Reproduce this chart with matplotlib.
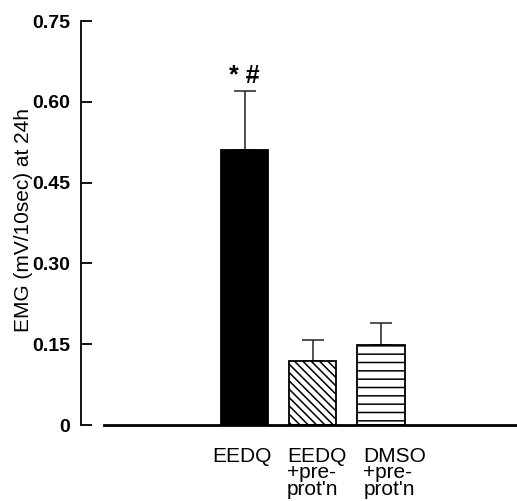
import matplotlib
matplotlib.use('Agg')
import matplotlib.pyplot as plt

# Data
groups = ['EEDQ', "EEDQ\n+pre-\nprot'n", "DMSO\n+pre-\nprot'n"]
emg_means = [0.51, 0.118, 0.149]
emg_errors = [0.11, 0.04, 0.041]
bar_hatches = ['', '\\\\\\\\', '--']
bar_colors = ['black', 'white', 'white']
significance = '* #'

plt.rcParams['font.family'] = ['Liberation Sans', 'DejaVu Sans']
plt.rcParams['hatch.linewidth'] = 1.1

fig = plt.figure(figsize=(5.17, 5.01), dpi=100)
ax = fig.add_axes([81 / 517, 1 - 425 / 501, 1 - 81 / 517, 404 / 501])

positions = list(range(len(groups)))
ax.bar(positions, emg_means, width=0.69, color=bar_colors, edgecolor='black',
       linewidth=1.3, hatch=bar_hatches, zorder=2)
ax.errorbar(positions, emg_means, yerr=[[0] * len(emg_errors), emg_errors],
            fmt='none', ecolor='#222222', elinewidth=1.1, capsize=8,
            capthick=1.1, zorder=1)

# significance marks over the first bar
ax.text(positions[0], emg_means[0] + emg_errors[0] + 0.006, significance,
        ha='center', va='bottom', fontsize=18, fontweight='bold')

ax.set_xlim(-2.396, 3.993)
ax.set_ylim(0, 0.75)
ax.set_yticks([0, 0.15, 0.30, 0.45, 0.60, 0.75])
ax.set_yticklabels(['0', '0.15', '0.30', '0.45', '0.60', '0.75'])
ax.tick_params(axis='y', direction='in', length=8, width=1.3, pad=8,
               labelsize=14)
for lab in ax.get_yticklabels():
    lab.set_fontweight('bold')

ax.set_ylabel('EMG (mV/10sec) at 24h', fontsize=15)
ax.yaxis.set_label_coords(-0.109, 0.507)

# group labels under the baseline
ax.set_xticks([])
label_shift = [-0.47, -0.38, -0.26]
for p, name, dx in zip(positions, groups, label_shift):
    ax.text(p + dx, -0.04, name, ha='left', va='top', fontsize=15,
            linespacing=0.85)

ax.spines['top'].set_visible(False)
ax.spines['right'].set_visible(False)
ax.spines['left'].set_linewidth(1.3)
ax.spines['bottom'].set_linewidth(2)
ax.spines['bottom'].set_bounds(-2.06, 3.993)

fig.savefig('out.png', dpi=100)
